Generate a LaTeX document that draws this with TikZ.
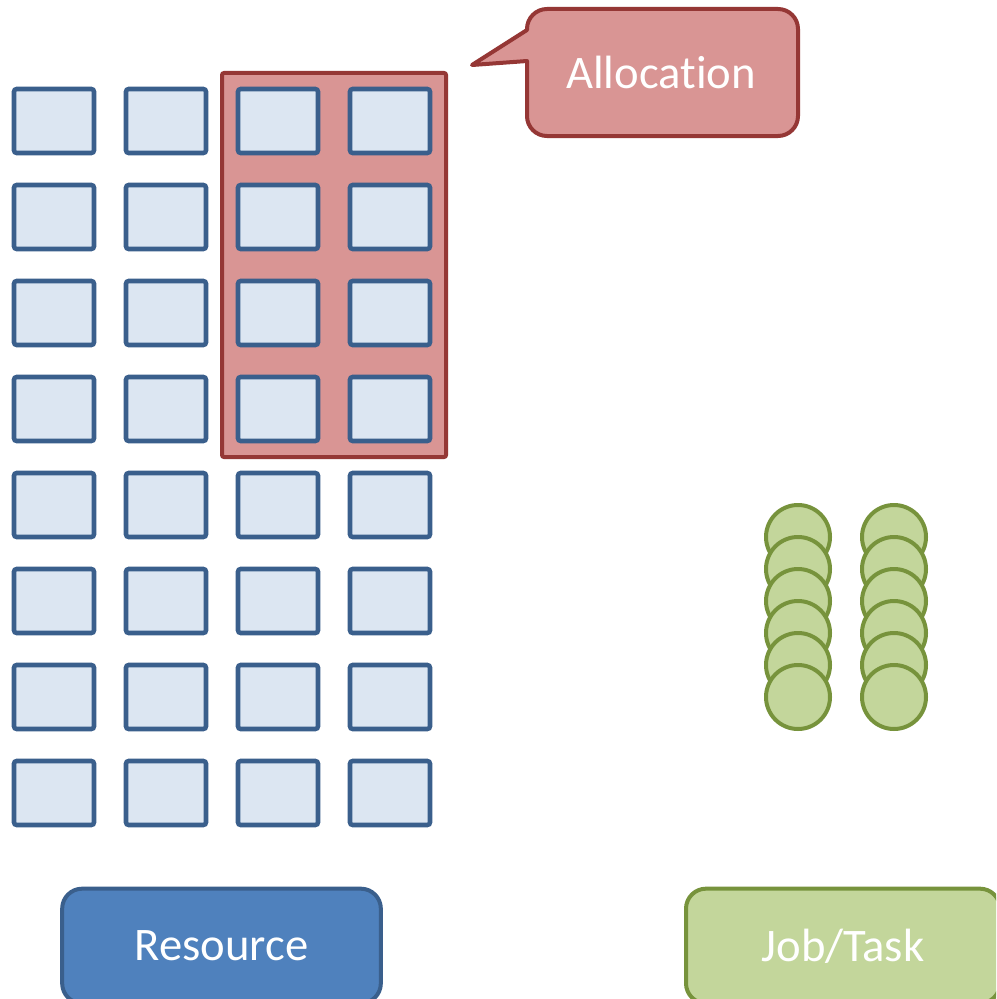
\documentclass[tikz,border=0pt]{standalone}
\usepackage{fontspec}
\setmainfont[Ligatures=NoCommon]{Carlito}
\definecolor{cellfill}{HTML}{DCE6F2}
\definecolor{celldraw}{HTML}{3A5F8C}
\definecolor{allocfill}{HTML}{D99594}
\definecolor{allocdraw}{HTML}{953735}
\definecolor{jobfill}{HTML}{C3D69B}
\definecolor{jobdraw}{HTML}{77933C}
\definecolor{resfill}{HTML}{4F81BD}
\definecolor{resdraw}{HTML}{3A5F8C}
\begin{document}
\begin{tikzpicture}[x=0.75pt,y=-0.75pt,
  cell/.style={draw=celldraw,fill=cellfill,line width=3.4pt,rounded corners=2pt,minimum width=60pt,minimum height=48pt,inner sep=0pt},
  allocbox/.style={draw=allocdraw,fill=allocfill,line width=3pt,rounded corners=1.5pt,minimum width=168pt,minimum height=288pt,inner sep=0pt},
  jobdot/.style={circle,draw=jobdraw,fill=jobfill,line width=3pt,minimum size=48pt,inner sep=0pt},
  legendbox/.style={line width=3pt,rounded corners=15pt,inner sep=0pt,text=white,font=\fontsize{35}{40}\selectfont},
  callout/.style={draw=allocdraw,fill=allocfill,line width=3pt,line join=round}]
\clip (0,0) rectangle (996,999);
\fill[white] (0,0) rectangle (996,999);
% allocation block
\node[allocbox] (alloc) at (334,265) {};
% resource grid
\foreach \i in {0,...,3}{
  \foreach \j in {0,...,7}{
    \node[cell] (r-\i-\j) at ({54+112*\i},{121+96*\j}) {};
  }
}
% callout
\coordinate (tip) at (472,65);
\draw[callout] (527,100) -- (527,61) -- (tip) -- (527,30)
  {[rounded corners=15pt] -- (527,9) -- (798,9) -- (798,136) -- (527,136)} -- cycle;
\node[text=white,font=\fontsize{35}{40}\selectfont] (alloclabel) at (661,72) {Allocation};
% jobs
\foreach \k in {0,...,5}{
  \node[jobdot] (ja-\k) at (798,{537+32*\k}) {};
  \node[jobdot] (jb-\k) at (894,{537+32*\k}) {};
}
% legend
\node[legendbox,draw=resdraw,fill=resfill,minimum width=239pt,minimum height=86pt] (resource) at (221.5,946) {Resource};
\node[legendbox,draw=jobdraw,fill=jobfill,minimum width=235.5pt,minimum height=86pt] (job) at (843,946) {Job/Task};
\end{tikzpicture}
\end{document}
